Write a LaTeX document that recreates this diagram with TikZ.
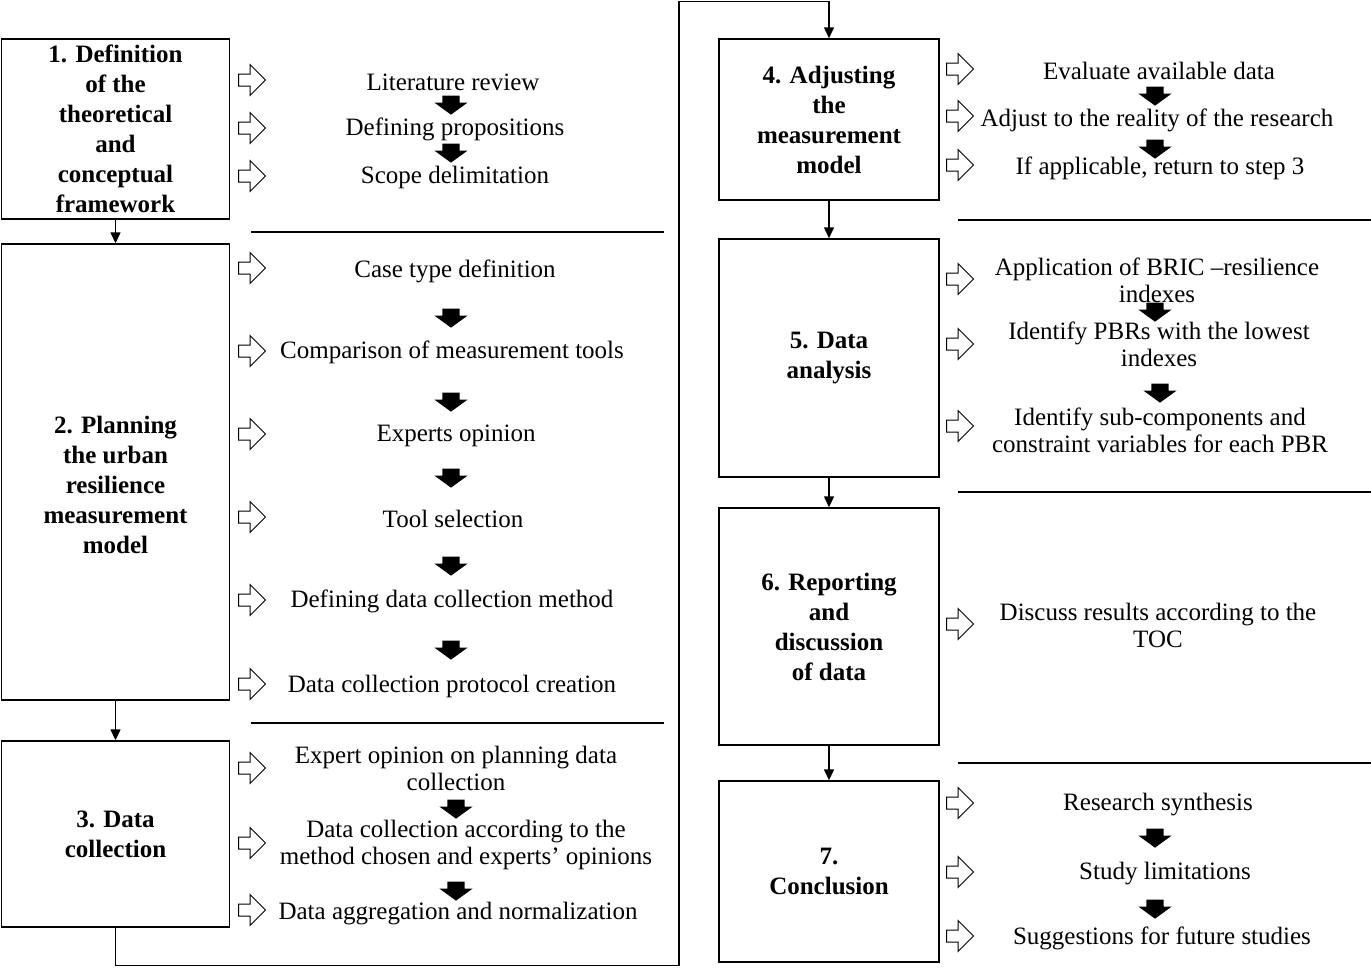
\documentclass[tikz,border=0pt]{standalone}
\usepackage{fontspec}
\setmainfont{Liberation Serif}
\usetikzlibrary{shapes.arrows,arrows.meta}

\begin{document}
\begin{tikzpicture}[x=1pt,y=-1pt,
    box/.style={draw,line width=1.4,align=center,inner sep=0,font=\fontsize{25}{30}\selectfont\bfseries},
    txt/.style={align=center,inner sep=0,font=\fontsize{25}{27}\selectfont},
    oarr/.style={single arrow,draw,line width=1,inner sep=0,text height=11,text depth=0,minimum height=27,single arrow head extend=9.5},
    barr/.style={single arrow,fill,inner sep=0,text height=17,text depth=0,minimum height=19,single arrow head extend=8,single arrow tip angle=108,rotate=-90},
    sep/.style={line width=2.6},
    >={Triangle[length=11,width=10]}]
    \useasboundingbox (0,0) rectangle (1371,967);
            % steps
            \node[box,minimum width=228,minimum height=180] at (115.5,129) (s1) {1. Definition\\of the\\theoretical\\and\\conceptual\\framework};
            \node[box,minimum width=228,minimum height=456] at (115.5,472) (s2) {\raisebox{-15pt}[\height][\depth]{\begin{tabular}{@{}c@{}}2. Planning\\the urban\\resilience\\measurement\\model\end{tabular}}};
            \node[box,minimum width=228,minimum height=186] at (115.5,834) (s3) {3. Data\\collection};
            \node[box,minimum width=220,minimum height=161] at (829,119.5) (s4) {4. Adjusting\\the\\measurement\\model};
            \node[box,minimum width=220,minimum height=238] at (829,358) (s5) {5. Data\\analysis};
            \node[box,minimum width=220,minimum height=237] at (829,626.5) (s6) {6. Reporting\\and\\discussion\\of data};
            \node[box,minimum width=220,minimum height=181] at (829,871.5) (s7) {7.\\Conclusion};
            \coordinate (c1) at (679,965.5);
            \coordinate (c2) at (679,1.5);
            \draw[->,line width=1.4] (s1) to (s2);
            \draw[->,line width=1.4] (s2) to (s3);
            \draw[->,line width=1.4] (s3) |- (c1) -- (c2) -| (s4);
            \draw[->,line width=1.4] (s4) to (s5);
            \draw[->,line width=1.4] (s5) to (s6);
            \draw[->,line width=1.4] (s6) to (s7);
            % separators
            \draw[sep] (251,232) -- (664,232);
            \draw[sep] (251,723) -- (664,723);
            \draw[sep] (958,220) -- (1371,220);
            \draw[sep] (958,492) -- (1371,492);
            \draw[sep] (958,763) -- (1371,763);
            % left tasks
            \node[txt] at (453,82) (t1) {Literature review};
            \node[txt] at (455,129) (t2) {Defining propositions};
            \node[txt] at (455,177) (t3) {Scope delimitation};
            \node[txt] at (455,271) (t4) {Case type definition};
            \node[txt] at (452,352) (t5) {Comparison of measurement tools};
            \node[txt] at (456,436) (t6) {Experts opinion};
            \node[txt] at (453,519) (t7) {Tool selection};
            \node[txt] at (452,601) (t8) {Defining data collection method};
            \node[txt] at (452,686) (t9) {Data collection protocol creation};
            \node[txt] at (456,768) (t10) {Expert opinion on planning data\\collection};
            \node[txt] at (466,845) (t11) {Data collection according to the\\method chosen and experts’ opinions};
            \node[txt] at (458,914) (t12) {Data aggregation and normalization};
            % right tasks
            \node[txt] at (1159,71) (t13) {Evaluate available data};
            \node[txt] at (1157,120) (t14) {Adjust to the reality of the research};
            \node[txt] at (1160,168) (t15) {If applicable, return to step 3};
            \node[txt] at (1157,280) (t16) {Application of BRIC –resilience\\indexes};
            \node[txt] at (1159,344) (t17) {Identify PBRs with the lowest\\indexes};
            \node[txt] at (1160,430) (t18) {Identify sub-components and\\constraint variables for each PBR};
            \node[txt] at (1158,625) (t19) {Discuss results according to the\\TOC};
            \node[txt] at (1158,805) (t20) {Research synthesis};
            \node[txt] at (1165,874) (t21) {Study limitations};
            \node[txt] at (1162,938) (t22) {Suggestions for future studies};
            % open arrows
            \node[oarr] at (249,80) (o1) {};
            \node[oarr] at (249,128) (o2) {};
            \node[oarr] at (249,176) (o3) {};
            \node[oarr] at (249,268) (o4) {};
            \node[oarr] at (249,351) (o5) {};
            \node[oarr] at (249,434) (o6) {};
            \node[oarr] at (249,517) (o7) {};
            \node[oarr] at (249,600) (o8) {};
            \node[oarr] at (249,684) (o9) {};
            \node[oarr] at (249,768) (o10) {};
            \node[oarr] at (249,843) (o11) {};
            \node[oarr] at (249,910) (o12) {};
            \node[oarr] at (957,69) (o13) {};
            \node[oarr] at (957,116) (o14) {};
            \node[oarr] at (957,165) (o15) {};
            \node[oarr] at (957,279) (o16) {};
            \node[oarr] at (957,344) (o17) {};
            \node[oarr] at (957,426) (o18) {};
            \node[oarr] at (957,624) (o19) {};
            \node[oarr] at (957,803) (o20) {};
            \node[oarr] at (957,872) (o21) {};
            \node[oarr] at (957,936) (o22) {};
            % black arrows
            \node[barr] at (451,102) (b1) {};
            \node[barr] at (451,150) (b2) {};
            \node[barr] at (451,315) (b3) {};
            \node[barr] at (451,399) (b4) {};
            \node[barr] at (451,475) (b5) {};
            \node[barr] at (451,563) (b6) {};
            \node[barr] at (451,647) (b7) {};
            \node[barr] at (456,806) (b8) {};
            \node[barr] at (456,888) (b9) {};
            \node[barr] at (1155,93) (b10) {};
            \node[barr] at (1155,146) (b11) {};
            \node[barr] at (1155,309) (b12) {};
            \node[barr] at (1160,390) (b13) {};
            \node[barr] at (1155,835) (b14) {};
            \node[barr] at (1155,906) (b15) {};
\end{tikzpicture}
\end{document}
